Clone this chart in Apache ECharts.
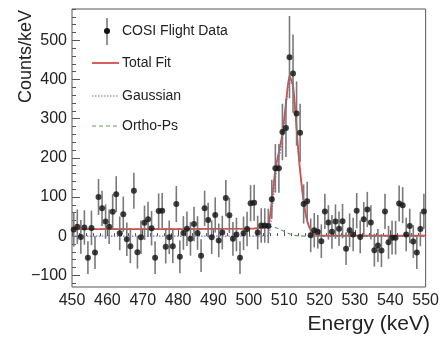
<!DOCTYPE html>
<html><head><meta charset="utf-8">
<script src="https://cdn.jsdelivr.net/npm/echarts@6/dist/echarts.min.js"></script>
<style>html,body{margin:0;padding:0;background:#fff}#c{width:442px;height:337px}</style>
</head><body><div id="c"></div>
<script>
// Energy bins: 1 keV wide, starting at 450 keV
const binStart = 450;
const binWidth = 1;
// Counts/keV per bin (COSI Flight Data)
const counts = [17,24,-2,22,-55,21,-42,100,71,37,24,62,107,7,56,-8,-26,116,-41,-3,
  34,43,20,-55,64,65,-27,-3,-26,82,-53,8,19,-7,31,8,-50,71,41,-3,
  54,-11,9,97,53,-7,4,-55,7,18,84,85,9,27,27,26,94,173,173,266,
  276,457,415,313,264,82,89,2,15,11,-13,63,35,11,37,19,38,-32,15,4,
  65,-2,43,68,35,-36,-24,-37,63,-16,-4,-4,83,79,4,26,-14,-42,18,63];
// Error (1 sigma) per bin
const errors = [44,44,43,44,42,44,42,46,45,44,44,45,46,43,45,43,43,46,42,43,
  44,45,44,42,45,45,43,43,43,46,42,43,44,43,44,43,42,45,44,43,
  45,43,43,46,45,43,43,42,43,44,46,46,43,44,44,44,50,62,62,72,
  74,105,100,82,74,50,50,43,44,43,43,45,44,43,44,44,44,42,43,43,
  45,42,44,45,44,42,42,42,45,42,43,43,46,46,43,44,42,42,44,45];
// Fit curves: [energy, counts/keV]
const totalFit = [[450,18],[480,18],[500,19],[504,21],[505.5,26],[506.5,90],[507.5,170],[508.5,215],
  [509.5,262],[510.5,340],[511.5,410],[512.5,385],[513.3,300],[514.0,215],[514.7,150],[515.4,95],
  [516.2,50],[517,25],[517.8,12],[519,4],[520,1],[550,1]];
const gaussian = [[450,0],[505,0],[506.5,62],[507.5,148],[508.5,196],[509.5,246],[510.5,328],[511.5,400],
  [512.5,378],[513.3,296],[514.0,212],[514.7,148],[515.4,93],[516.2,49],[517,24],[517.8,11],[519,3],[520,0],[550,0]];
const orthoPs = [[450,18],[500,19],[504,21],[505.5,24],[506.8,24],[508,20],[509,16],[510.2,11],
  [511.5,6],[513,2],[514.5,1],[516.3,0],[550,0]];
const yMajor = [-100,0,100,200,300,400,500];
const yMinor = [-120,-80,-60,-40,-20,20,40,60,80,120,140,160,180,220,240,260,280,320,340,360,380,420,440,460,480,520,540,560,580];

const points = counts.map((c, i) => [binStart + binWidth * (i + 0.5), c, errors[i]]);
const FONT = "'Liberation Sans', Arial, Helvetica, sans-serif";
const chart = echarts.init(document.getElementById('c'), null, {renderer: 'canvas'});
const yCommon = {type: 'value', min: -130, max: 580, position: 'left', axisLine: {show: false}, splitLine: {show: false}};
chart.setOption({
  animation: false,
  backgroundColor: '#fff',
  grid: {left: 72, right: 14, top: 9, bottom: 50, show: true, borderColor: '#555', borderWidth: 1},
  xAxis: {
    type: 'value', min: 450, max: 550, interval: 10,
    axisLine: {show: false},
    axisTick: {inside: true, length: 6, lineStyle: {color: '#555'}},
    minorTick: {show: true, splitNumber: 5, length: 3, lineStyle: {color: '#555'}},
    splitLine: {show: false},
    axisLabel: {fontSize: 16, color: '#222', fontFamily: FONT, margin: 6, showMinLabel: true, showMaxLabel: true}
  },
  yAxis: [
    Object.assign({}, yCommon, {
      axisTick: {inside: true, length: 8, customValues: yMajor, lineStyle: {color: '#555'}},
      axisLabel: {customValues: yMajor, fontSize: 16, color: '#222', fontFamily: FONT, margin: 5,
        formatter: v => v < 0 ? '\u2212' + (-v) : String(v)}
    }),
    Object.assign({}, yCommon, {
      axisTick: {inside: true, length: 4, customValues: yMinor, lineStyle: {color: '#555'}},
      axisLabel: {show: false}
    })
  ],
  series: [
    {type: 'line', data: orthoPs, showSymbol: false, smooth: 0.2, lineStyle: {color: '#5aa55a', width: 1.2, type: [4, 3]}, z: 2},
    {type: 'line', data: gaussian, showSymbol: false, smooth: 0.2, lineStyle: {color: '#6b6bd6', width: 1.2, type: [1.5, 1.5]}, z: 3},
    {type: 'line', data: totalFit, showSymbol: false, smooth: 0.2, lineStyle: {color: '#d64f4f', width: 1.8}, z: 4},
    {type: 'custom', data: points, clip: true, z: 5,
      renderItem: (params, api) => {
        const x = api.value(0), y = api.value(1), e = api.value(2);
        const a = api.coord([x, y + e]), b = api.coord([x, y - e]);
        return {type: 'line', shape: {x1: a[0], y1: a[1], x2: b[0], y2: b[1]}, style: {stroke: '#7a7a7a', lineWidth: 1.6}};
      }},
    {type: 'scatter', data: points.map(p => [p[0], p[1]]), symbol: 'circle', symbolSize: 6,
      itemStyle: {color: '#111'}, z: 6}
  ],
  graphic: [
    {type: 'line', shape: {x1: 107, y1: 18, x2: 107, y2: 45}, style: {stroke: '#7a7a7a', lineWidth: 1.6}},
    {type: 'circle', shape: {cx: 107, cy: 31, r: 3}, style: {fill: '#111'}},
    {type: 'text', x: 122, y: 31, style: {text: 'COSI Flight Data', font: '14px ' + FONT, fill: '#222', verticalAlign: 'middle'}},
    {type: 'line', shape: {x1: 92, y1: 63, x2: 119, y2: 63}, style: {stroke: '#d64f4f', lineWidth: 1.8}},
    {type: 'text', x: 122, y: 63, style: {text: 'Total Fit', font: '14px ' + FONT, fill: '#222', verticalAlign: 'middle'}},
    {type: 'line', shape: {x1: 92, y1: 96, x2: 119, y2: 96}, style: {stroke: '#6b6bd6', lineWidth: 1.2, lineDash: [1.5, 1.5]}},
    {type: 'text', x: 122, y: 96, style: {text: 'Gaussian', font: '14px ' + FONT, fill: '#222', verticalAlign: 'middle'}},
    {type: 'line', shape: {x1: 92, y1: 126, x2: 119, y2: 126}, style: {stroke: '#5aa55a', lineWidth: 1.2, lineDash: [4, 3]}},
    {type: 'text', x: 122, y: 126, style: {text: 'Ortho-Ps', font: '14px ' + FONT, fill: '#222', verticalAlign: 'middle'}},
    {type: 'text', x: 26, y: 10, rotation: Math.PI / 2, style: {text: 'Counts/keV', font: '18px ' + FONT, fill: '#222', align: 'right', verticalAlign: 'middle'}},
    {type: 'text', x: 430, y: 324, style: {text: 'Energy (keV)', font: '21px ' + FONT, fill: '#222', align: 'right', verticalAlign: 'middle'}}
  ]
});
</script>
</body></html>
